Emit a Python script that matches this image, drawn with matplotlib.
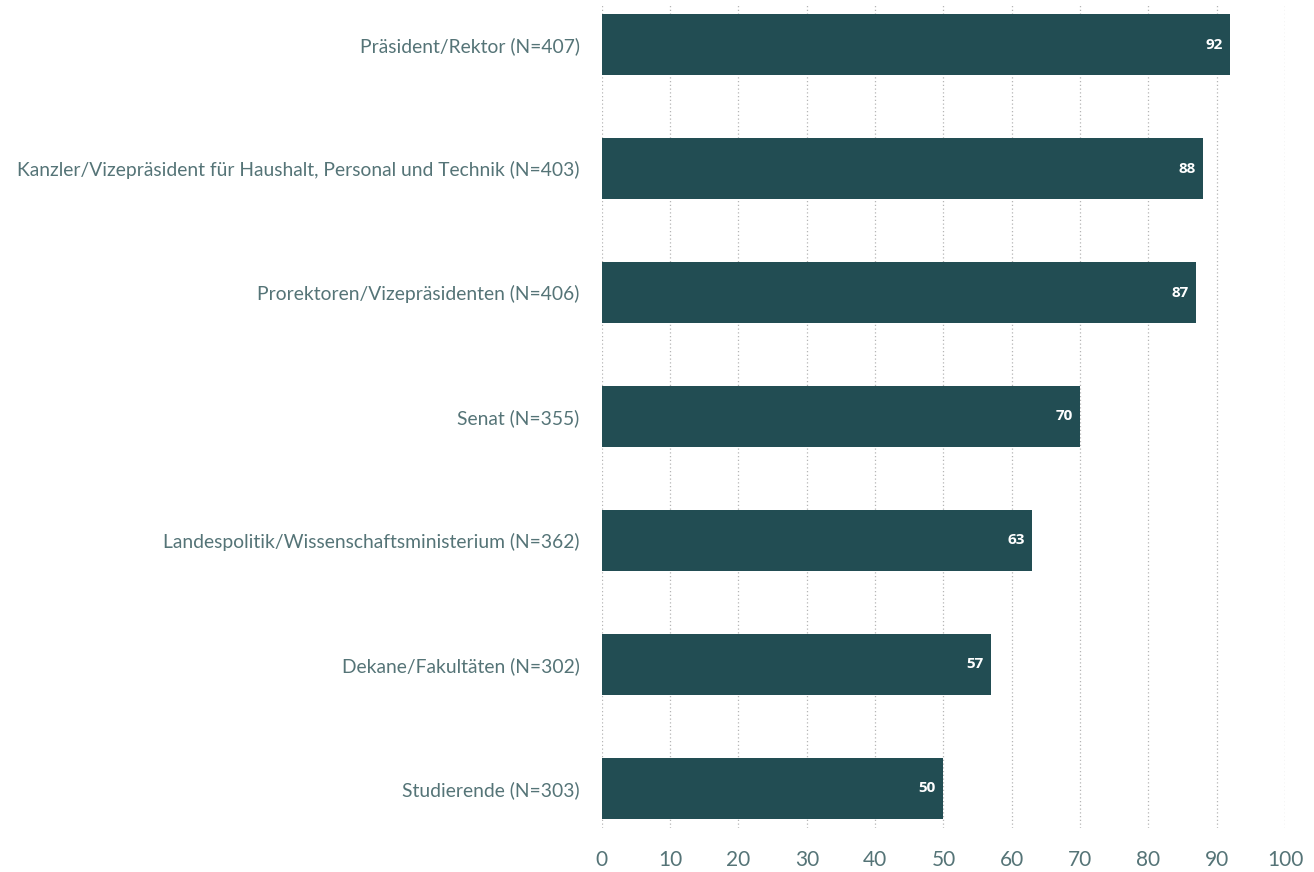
import matplotlib
matplotlib.use("Agg")
from matplotlib import pyplot as plt
from matplotlib import font_manager
import numpy as np

categories = [
    "Präsident/Rektor (N=407)",
    "Kanzler/Vizepräsident für Haushalt, Personal und Technik (N=403)",
    "Prorektoren/Vizepräsidenten (N=406)",
    "Senat (N=355)",
    "Landespolitik/Wissenschaftsministerium (N=362)",
    "Dekane/Fakultäten (N=302)",
    "Studierende (N=303)",
]
values = [92, 88, 87, 70, 63, 57, 50]
xticks = [0, 10, 20, 30, 40, 50, 60, 70, 80, 90, 100]

bar_color = "#224d53"
text_color = "#557477"

names = {f.name for f in font_manager.fontManager.ttflist}
family = "Lato" if "Lato" in names else "DejaVu Sans"

fig = plt.figure(figsize=(13.14, 8.72), dpi=100)
ax = fig.add_axes([0.458, 0.0505, 0.520, 0.9438])

y = np.arange(len(categories))
ax.barh(y, values, height=0.49, color=bar_color, zorder=3)

for yi, v in zip(y, values):
    ax.text(v - 1.1, yi, str(v), ha="right", va="center", color="white",
            fontsize=11, fontweight="bold", family="Open Sans", zorder=4)

ax.set_xlim(0, 100)
ax.set_ylim(len(categories) - 1 + 0.32, -0.32)
ax.set_xticks(xticks)
ax.set_yticks(y)
ax.set_yticklabels(categories)

for lab in ax.get_yticklabels():
    lab.set_family(family)
    lab.set_fontweight("normal")
    lab.set_fontsize(13.9)
    lab.set_color(text_color)
for lab in ax.get_xticklabels():
    lab.set_family(family)
    lab.set_fontweight("normal")
    lab.set_fontsize(15)
    lab.set_color(text_color)

ax.tick_params(axis="y", length=0, pad=16)
ax.tick_params(axis="x", length=0, pad=16)
ax.grid(axis="x", linestyle=(0, (1, 2)), color="#b5b5b5", linewidth=0.9, zorder=0)
for s in ax.spines.values():
    s.set_visible(False)

fig.savefig("out.png", dpi=100)
